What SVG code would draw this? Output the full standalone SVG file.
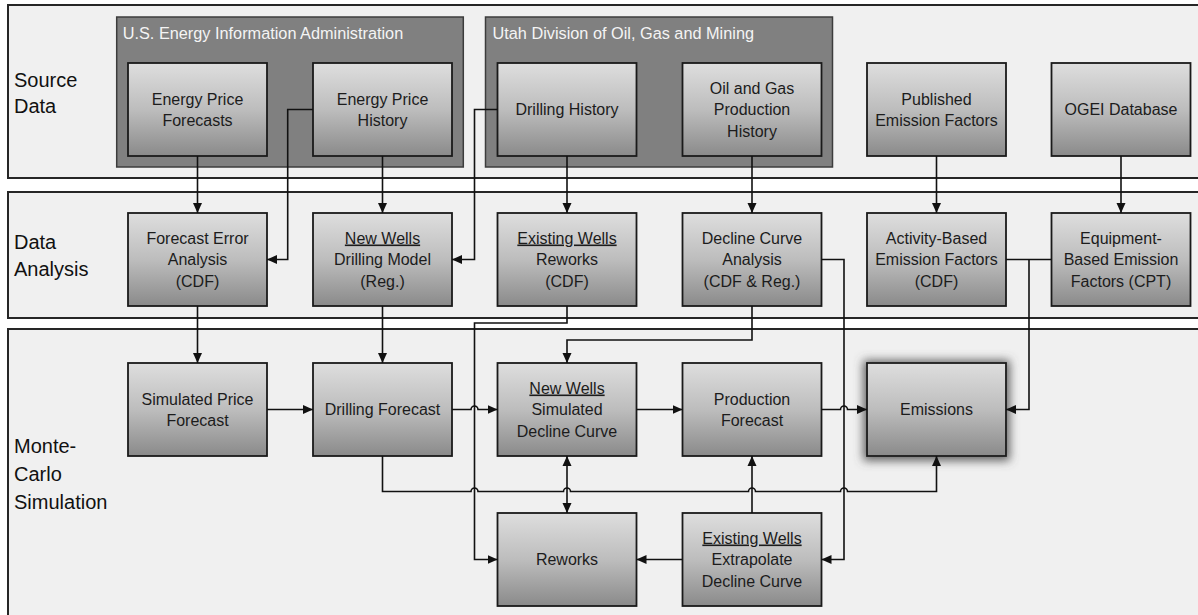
<svg xmlns="http://www.w3.org/2000/svg" width="1198" height="615" viewBox="0 0 1198 615">
<defs>
<linearGradient id="g" x1="0" y1="0" x2="0" y2="1">
<stop offset="0" stop-color="#dedede"/>
<stop offset="0.5" stop-color="#bdbdbd"/>
<stop offset="1" stop-color="#8a8a8a"/>
</linearGradient>
<filter id="glow" x="-30%" y="-30%" width="160%" height="160%">
<feMorphology in="SourceAlpha" operator="dilate" radius="3" result="d"/>
<feGaussianBlur in="d" stdDeviation="5"/>
<feOffset dx="0" dy="1" result="b"/>
<feFlood flood-color="#555555" flood-opacity="0.9"/>
<feComposite in2="b" operator="in"/>
<feMerge><feMergeNode/><feMergeNode in="SourceGraphic"/></feMerge>
</filter>
<marker id="ah" markerUnits="userSpaceOnUse" markerWidth="10" markerHeight="10" refX="10" refY="5" orient="auto">
<path d="M0,0.5 L10,5 L0,9.5 z" fill="#111"/>
</marker>
<marker id="as" markerUnits="userSpaceOnUse" markerWidth="10" markerHeight="10" refX="10" refY="5" orient="auto-start-reverse">
<path d="M0,0.5 L10,5 L0,9.5 z" fill="#111"/>
</marker>
</defs>
<style>
.band{fill:#f0f0f0;stroke:#262626;stroke-width:2}
.blabel{font-family:"Liberation Sans",Arial,sans-serif;font-size:20px;fill:#111}
.cont{fill:#808080;stroke:#3c3c3c;stroke-width:1.5}
.ctitle{font-family:"Liberation Sans",Arial,sans-serif;font-size:16.3px;fill:#f4f4f4}
.node rect{fill:url(#g);stroke:#1a1a1a;stroke-width:1.8}
.node text{font-family:"Liberation Sans",Arial,sans-serif;font-size:16px;fill:#1c1c1c;text-anchor:middle}
.u{text-decoration:underline}
.conn path{fill:none;stroke:#111;stroke-width:1.6}
</style>
<rect width="1198" height="615" fill="#ffffff"/>
<g id="bands">
<rect class="band" x="8" y="5" width="1200" height="173"/>
<rect class="band" x="8" y="192" width="1200" height="126"/>
<rect class="band" x="8" y="329" width="1200" height="300"/>
<text class="blabel" x="14" y="86.5">Source</text>
<text class="blabel" x="14" y="112.5">Data</text>
<text class="blabel" x="14" y="249">Data</text>
<text class="blabel" x="14" y="276">Analysis</text>
<text class="blabel" x="14" y="453">Monte-</text>
<text class="blabel" x="14" y="481">Carlo</text>
<text class="blabel" x="14" y="509">Simulation</text>
</g>
<g id="eia">
<rect class="cont" x="116.7" y="17" width="346.6" height="150"/>
<text class="ctitle" x="122.7" y="39">U.S. Energy Information Administration</text>
</g>
<g id="utah">
<rect class="cont" x="485.5" y="17" width="347" height="150"/>
<text class="ctitle" x="492.5" y="39">Utah Division of Oil, Gas and Mining</text>
</g>
<g id="n_epf" class="node"><rect x="128" y="63" width="139" height="93"/><text x="197.5" y="104.5">Energy Price</text><text x="197.5" y="125.5">Forecasts</text></g>
<g id="n_eph" class="node"><rect x="313" y="63" width="139" height="93"/><text x="382.5" y="104.5">Energy Price</text><text x="382.5" y="125.5">History</text></g>
<g id="n_dh" class="node"><rect x="497.5" y="63" width="139" height="93"/><text x="567" y="115">Drilling History</text></g>
<g id="n_ogph" class="node"><rect x="682.5" y="63" width="139" height="93"/><text x="752" y="94">Oil and Gas</text><text x="752" y="115">Production</text><text x="752" y="136.5">History</text></g>
<g id="n_pef" class="node"><rect x="867" y="63" width="139" height="93"/><text x="936.5" y="104.5">Published</text><text x="936.5" y="125.5">Emission Factors</text></g>
<g id="n_ogei" class="node"><rect x="1051.5" y="63" width="139" height="93"/><text x="1121" y="115">OGEI Database</text></g>
<g id="n_fea" class="node"><rect x="128" y="213" width="139" height="93"/><text x="197.5" y="243.5">Forecast Error</text><text x="197.5" y="265">Analysis</text><text x="197.5" y="286.5">(CDF)</text></g>
<g id="n_nwdm" class="node"><rect x="313" y="213" width="139" height="93"/><text x="382.5" y="243.5" class="u">New Wells</text><text x="382.5" y="265">Drilling Model</text><text x="382.5" y="286.5">(Reg.)</text></g>
<g id="n_ewr" class="node"><rect x="497.5" y="213" width="139" height="93"/><text x="567" y="243.5" class="u">Existing Wells</text><text x="567" y="265">Reworks</text><text x="567" y="286.5">(CDF)</text></g>
<g id="n_dca" class="node"><rect x="682.5" y="213" width="139" height="93"/><text x="752" y="243.5">Decline Curve</text><text x="752" y="265">Analysis</text><text x="752" y="286.5">(CDF &amp; Reg.)</text></g>
<g id="n_abef" class="node"><rect x="867" y="213" width="139" height="93"/><text x="936.5" y="243.5">Activity-Based</text><text x="936.5" y="265">Emission Factors</text><text x="936.5" y="286.5">(CDF)</text></g>
<g id="n_ebef" class="node"><rect x="1051.5" y="213" width="139" height="93"/><text x="1121" y="243.5">Equipment-</text><text x="1121" y="265">Based Emission</text><text x="1121" y="286.5">Factors (CPT)</text></g>
<g id="n_spf" class="node"><rect x="128" y="363" width="139" height="93"/><text x="197.5" y="404.5">Simulated Price</text><text x="197.5" y="425.5">Forecast</text></g>
<g id="n_df" class="node"><rect x="313" y="363" width="139" height="93"/><text x="382.5" y="415">Drilling Forecast</text></g>
<g id="n_nwsdc" class="node"><rect x="497.5" y="363" width="139" height="93"/><text x="567" y="393.5" class="u">New Wells</text><text x="567" y="415">Simulated</text><text x="567" y="436.5">Decline Curve</text></g>
<g id="n_pf" class="node"><rect x="682.5" y="363" width="139" height="93"/><text x="752" y="404.5">Production</text><text x="752" y="425.5">Forecast</text></g>
<g id="n_em" class="node"><rect x="867" y="363" width="139" height="93" filter="url(#glow)"/><text x="936.5" y="415">Emissions</text></g>
<g id="n_rw" class="node"><rect x="497.5" y="513" width="139" height="93"/><text x="567" y="565">Reworks</text></g>
<g id="n_ewedc" class="node"><rect x="682.5" y="513" width="139" height="93"/><text x="752" y="543.5" class="u">Existing Wells</text><text x="752" y="565">Extrapolate</text><text x="752" y="586.5">Decline Curve</text></g>
<g id="connectors" class="conn">
<path d="M197.5,156 V213" marker-end="url(#ah)"/>
<path d="M382.5,156 V213" marker-end="url(#ah)"/>
<path d="M313,109.5 H287.7 V259.5 H267" marker-end="url(#ah)"/>
<path d="M497.5,109.5 H474.5 V259.5 H452" marker-end="url(#ah)"/>
<path d="M567,156 V213" marker-end="url(#ah)"/>
<path d="M752,156 V213" marker-end="url(#ah)"/>
<path d="M936.5,156 V213" marker-end="url(#ah)"/>
<path d="M1121,156 V213" marker-end="url(#ah)"/>
<path d="M197.5,306 V363" marker-end="url(#ah)"/>
<path d="M382.5,306 V363" marker-end="url(#ah)"/>
<path d="M567,306 V323 H474.5 V559.5 H497.5" marker-end="url(#ah)"/>
<path d="M752,306 V340 H567 V363" marker-end="url(#ah)"/>
<path d="M821.5,259.5 H844 V559.5 H821.5" marker-end="url(#ah)"/>
<path d="M1006,259.5 H1051.5"/>
<path d="M1029,259.5 V409.5 H1006" marker-end="url(#ah)"/>
<path d="M267,409.5 H313" marker-end="url(#ah)"/>
<path d="M452,409.5 H471 a3.5,3.5 0 0 1 7,0 H497.5" marker-end="url(#ah)"/>
<path d="M636.5,409.5 H682.5" marker-end="url(#ah)"/>
<path d="M821.5,409.5 H840.5 a3.5,3.5 0 0 1 7,0 H867" marker-end="url(#ah)"/>
<path d="M382.5,456 V491.5 H471 a3.5,3.5 0 0 1 7,0 H563.5 a3.5,3.5 0 0 1 7,0 H748.5 a3.5,3.5 0 0 1 7,0 H840.5 a3.5,3.5 0 0 1 7,0 H936.5 V456" marker-end="url(#ah)"/>
<path d="M567,456 V513" marker-start="url(#as)" marker-end="url(#ah)"/>
<path d="M752,513 V456" marker-end="url(#ah)"/>
<path d="M682.5,559.5 H636.5" marker-end="url(#ah)"/>
</g>
</svg>
